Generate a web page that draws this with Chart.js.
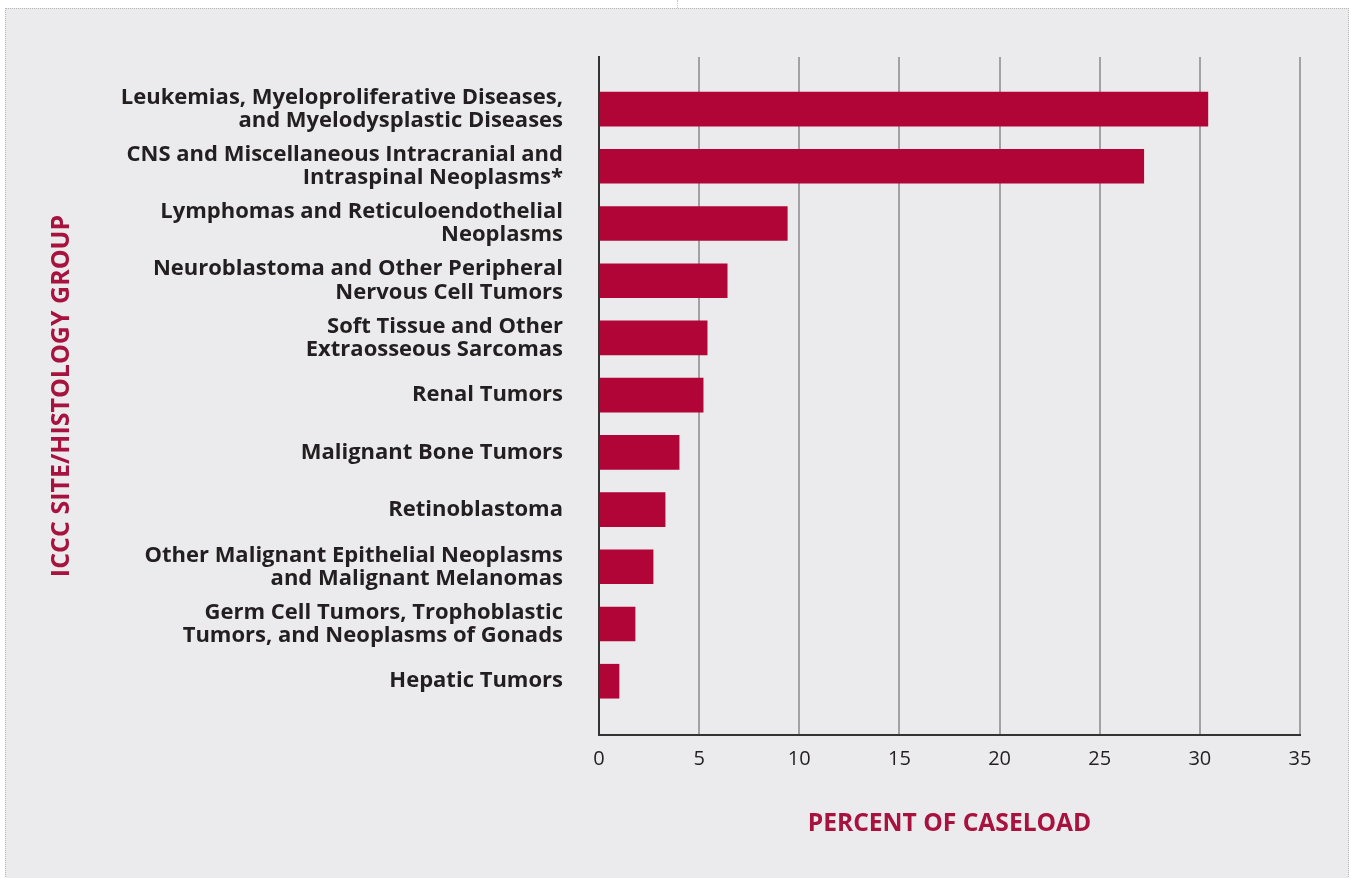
<!DOCTYPE html>
<html>
<head>
<meta charset="utf-8">
<title>ICCC site/histology group – percent of caseload</title>
<script src="https://cdn.jsdelivr.net/npm/chart.js@4.4.1/dist/chart.umd.min.js"></script>
<style>
  html, body { margin: 0; padding: 0; background: #fff; }
  #frame {
    position: absolute; left: 5px; top: 8px; width: 1342px; height: 880px;
    background: #ebebed;
    border-top: 1px dotted #b8b8b8; border-left: 1px dotted #b8b8b8; border-right: 1px dotted #b8b8b8;
  }
  #notch { position: absolute; left: 677px; top: 0; height: 8px; border-left: 1px dotted #c8c8c8; }
  #wrap { position: absolute; left: 0; top: 0; width: 1351px; height: 878px; }
</style>
</head>
<body>
<div id="frame"></div>
<div id="notch"></div>
<div id="wrap"><canvas id="chart"></canvas></div>
<script>
// site groups, top to bottom (each entry is the label's lines)
const groups = [
  ["Leukemias, Myeloproliferative Diseases,", "and Myelodysplastic Diseases"],
  ["CNS and Miscellaneous Intracranial and", "Intraspinal Neoplasms*"],
  ["Lymphomas and Reticuloendothelial", "Neoplasms"],
  ["Neuroblastoma and Other Peripheral", "Nervous Cell Tumors"],
  ["Soft Tissue and Other", "Extraosseous Sarcomas"],
  ["Renal Tumors"],
  ["Malignant Bone Tumors"],
  ["Retinoblastoma"],
  ["Other Malignant Epithelial Neoplasms", "and Malignant Melanomas"],
  ["Germ Cell Tumors, Trophoblastic", "Tumors, and Neoplasms of Gonads"],
  ["Hepatic Tumors"]
];
const caseload = [30.4, 27.2, 9.4, 6.4, 5.4, 5.2, 4.0, 3.3, 2.7, 1.8, 1.0];
const percentTicks = [0, 5, 10, 15, 20, 25, 30, 35];

const crimson = "#b10537";
const titleRed = "#a8123e";
const ink = "#231f20";
const face = "'Open Sans'";

new Chart(document.getElementById("chart"), {
  type: "bar",
  data: {
    datasets: [{
      data: caseload.map((v, i) => ({ x: v, y: i })),
      backgroundColor: crimson,
      borderWidth: 0,
      barThickness: 34
    }]
  },
  options: {
    indexAxis: "y",
    responsive: true,
    maintainAspectRatio: false,
    animation: false,
    layout: { padding: { top: 57, right: 51, left: 0, bottom: 0 } },
    plugins: { legend: { display: false }, tooltip: { enabled: false } },
    scales: {
      x: {
        type: "linear",
        min: percentTicks[0],
        max: percentTicks[percentTicks.length - 1],
        afterBuildTicks: s => { s.ticks = percentTicks.map(v => ({ value: v })); },
        afterFit: s => { s.height = 143; },
        grid: {
          color: ctx => ctx.index === 0 ? "rgba(0,0,0,0)" : "#a2a2a4",
          lineWidth: 2,
          drawTicks: false
        },
        border: { display: true, color: "#333", width: 2 },
        ticks: {
          padding: 12,
          color: ink,
          font: { family: face, size: 20 }
        },
        title: {
          display: true,
          text: "PERCENT OF CASELOAD",
          color: titleRed,
          font: { family: face, size: 24.6, weight: "bold" },
          padding: { top: 0, bottom: 39 }
        }
      },
      y: {
        type: "linear",
        reverse: true,
        offset: false,
        min: -0.91,
        max: 10.94,
        afterBuildTicks: s => { s.ticks = groups.map((_, i) => ({ value: i })); },
        afterFit: s => { s.width = 599; s.paddingTop = 0; s.paddingBottom = 0; },
        grid: { display: false, drawTicks: false },
        border: { display: true, color: "#333", width: 2 },
        ticks: {
          padding: 36,
          color: ink,
          font: { family: face, size: 22, weight: "bold", lineHeight: 1.05 },
          callback: v => groups[v]
        },
        title: {
          display: true,
          text: "ICCC SITE/HISTOLOGY GROUP",
          color: titleRed,
          font: { family: face, size: 25, weight: "bold" },
          padding: { top: 47, bottom: 0 }
        }
      }
    }
  }
});
</script>
</body>
</html>
